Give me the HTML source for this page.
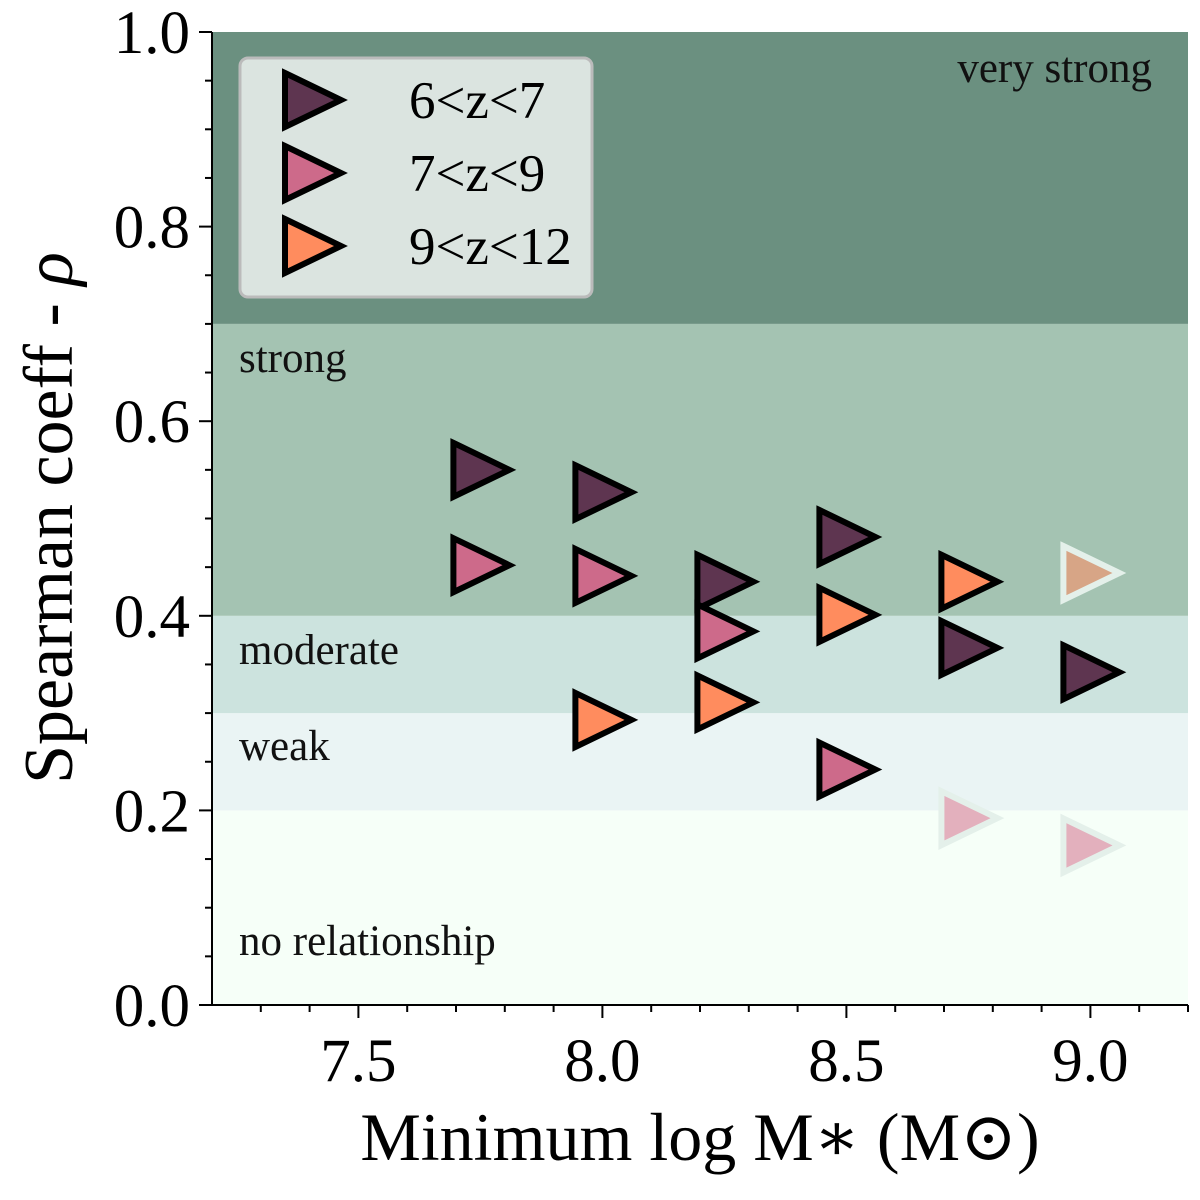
<!DOCTYPE html>
<html><head><meta charset="utf-8"><style>
body{margin:0;background:#fff}
svg text{font-family:"Liberation Serif","DejaVu Serif",serif}
</style></head><body>
<svg id="chart" width="1200" height="1195" xmlns="http://www.w3.org/2000/svg">
<g id="bands"></g><g id="ticks"></g><g id="marks"></g><g id="legend"></g>
</svg>
<script>
const xTicks=[7.5,8.0,8.5,9.0];
const xTickLabels=["7.5","8.0","8.5","9.0"];
const yTicks=[0,0.2,0.4,0.6,0.8,1.0];
const yTickLabels=["0.0","0.2","0.4","0.6","0.8","1.0"];
const bandEdges=[0,0.2,0.3,0.4,0.7,1.0];
const bandNames=["no relationship","weak","moderate","strong","very strong"];
const seriesNames=["6<z<7","7<z<9","9<z<12"];
const xs1=[7.75,8.0,8.25,8.5,8.75,9.0];
const ys1=[0.55,0.527,0.435,0.481,0.367,0.342];
const xs2=[7.75,8.0,8.25,8.5,8.75,9.0];
const ys2=[0.452,0.441,0.384,0.242,0.192,0.164];
const faded2=[false,false,false,false,true,true];
const xs3=[8.0,8.25,8.5,8.75,9.0];
const ys3=[0.293,0.311,0.401,0.435,0.444];
const faded3=[false,false,false,false,true];

const L=212,R=1188,T=32,B=1005,X0=7.2,X1=9.2;
const sx=v=>L+(v-X0)/(X1-X0)*(R-L);
const sy=v=>B-v*(B-T);
const NS="http://www.w3.org/2000/svg";
function mk(tag,attrs,parent,txt){const e=document.createElementNS(NS,tag);for(const k in attrs)e.setAttribute(k,attrs[k]);if(txt!==undefined)e.textContent=txt;parent.appendChild(e);return e;}
const gB=document.getElementById('bands'),gT=document.getElementById('ticks'),gM=document.getElementById('marks'),gL=document.getElementById('legend');
const bandColors=["#f6fff8","#eaf4f4","#cce3de","#a4c3b2","#6b9080"];
const labelY=[955,760,664,372,82];
for(let i=0;i<bandNames.length;i++){
  const r=mk('rect',{x:L,y:sy(bandEdges[i+1]),width:R-L,height:sy(bandEdges[i])-sy(bandEdges[i+1]),fill:bandColors[i]},gB);
  
  
  const top=i===4;
  const t=mk('text',{x:top?1152:239,y:labelY[i],'font-size':43,fill:'#111','text-anchor':top?'end':'start'},gB,bandNames[i]);
  
  
}
const fr=mk('path',{d:`M${L},${T}V${B}H${R}`,fill:'none',stroke:'#000','stroke-width':2},gT);


for(let v=7.3;v<=9.2001;v+=0.1){const p=sx(v);const maj=xTicks.some(t=>Math.abs(t-v)<1e-6);mk('line',{x1:p,x2:p,y1:B,y2:B+(maj?13:7),stroke:'#000','stroke-width':2},gT);}
for(let v=0;v<=1.0001;v+=0.05){const p=sy(v);const maj=yTicks.some(t=>Math.abs(t-v)<1e-6);mk('line',{x1:L,x2:L-(maj?13:7),y1:p,y2:p,stroke:'#000','stroke-width':2},gT);}
xTicks.forEach((v,i)=>{const t=mk('text',{x:sx(v),y:1081,'font-size':61,'text-anchor':'middle'},gT,xTickLabels[i]);});
yTicks.forEach((v,i)=>{const t=mk('text',{x:190,y:sy(v)+21,'font-size':61,'text-anchor':'end'},gT,yTickLabels[i]);});
const xt=mk('text',{x:700,y:1160,'font-size':68,'text-anchor':'middle'},gT,'Minimum log M∗ (M⊙)');

const yt=mk('text',{x:0,y:0,'font-size':70,'text-anchor':'middle',transform:'translate(72,518) rotate(-90)'},gT,'Spearman coeff - ');
const rho=mk('tspan',{'font-style':'italic'},yt,'ρ');


const colors=["#5e3550","#cd6a8a","#ff8c5e"];
const fadedFill=["#5e3550","#e3b0bd","#d7a586"];
function tri(cx,cy,fill,faded,parent){
  const h=27;
  const d=`M${cx-h},${cy-h}L${cx+h+2},${cy}L${cx-h},${cy+h}Z`;
  return mk('path',{d:d,fill:fill,stroke:faded?'#e4f0ea':'#000','stroke-width':6,'stroke-linejoin':'miter'},parent);
}
const sets=[[xs1,ys1,null],[xs2,ys2,faded2],[xs3,ys3,faded3]];
sets.forEach((s,k)=>{s[0].forEach((x,i)=>{const f=s[2]&&s[2][i];const p=tri(sx(x),sy(s[1][i]),f?fadedFill[k]:colors[k],f,gM);});});

const lb=mk('rect',{x:240,y:58,width:352,height:239,rx:8,fill:'#eef3f1','fill-opacity':0.85,stroke:'#bbb','stroke-width':3},gL);

seriesNames.forEach((n,k)=>{const y=100+k*73;const p=tri(312,y,colors[k],false,gL);
const t=mk('text',{x:409,y:y+18,'font-size':53},gL,n);});
</script>
</body></html>
